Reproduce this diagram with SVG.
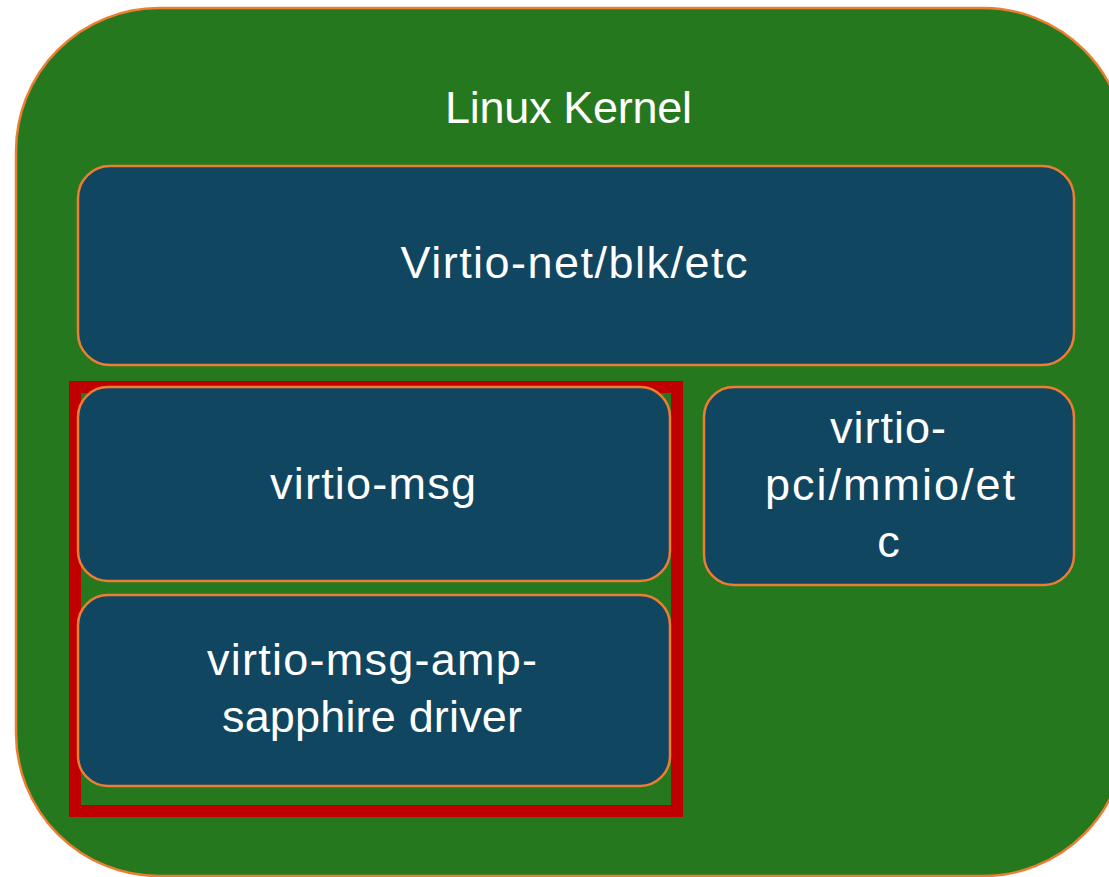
<svg xmlns="http://www.w3.org/2000/svg" width="1109" height="877" viewBox="0 0 1109 877">
<style>
  .box { fill: #114661; stroke: #ED7D31; stroke-width: 2.5; }
  .lbl { font-family: "Liberation Sans", Arial, sans-serif; font-size: 45px; fill: #FFFFFF; text-anchor: middle; }
</style>
<rect width="1109" height="877" fill="#FFFFFF"/>
<g id="linux-kernel">
  <rect x="16" y="8" width="1110" height="868" rx="143" ry="143" fill="#26781F" stroke="#ED7D31" stroke-width="2.5"/>
  <text class="lbl" x="568.5" y="123" textLength="247" lengthAdjust="spacing">Linux Kernel</text>
</g>
<g id="virtio-net">
  <rect class="box" x="78" y="166" width="996" height="199" rx="32" ry="32"/>
  <text class="lbl" x="574" y="278" textLength="347" lengthAdjust="spacing">Virtio-net/blk/etc</text>
</g>
<g id="highlight">
  <rect x="75" y="387" width="602" height="424" fill="none" stroke="#C00000" stroke-width="12"/>
</g>
<g id="virtio-msg">
  <rect class="box" x="78" y="387" width="592" height="194" rx="30" ry="30"/>
  <text class="lbl" x="373" y="499" textLength="206" lengthAdjust="spacing">virtio-msg</text>
</g>
<g id="virtio-msg-amp-sapphire">
  <rect class="box" x="78" y="595" width="592" height="191" rx="30" ry="30"/>
  <text class="lbl" x="372" y="675" textLength="330" lengthAdjust="spacing">virtio-msg-amp-</text>
  <text class="lbl" x="372" y="732" textLength="300" lengthAdjust="spacing">sapphire driver</text>
</g>
<g id="virtio-pci">
  <rect class="box" x="704" y="387" width="370" height="198" rx="30" ry="30"/>
  <text class="lbl" x="888" y="443" textLength="116" lengthAdjust="spacing">virtio-</text>
  <text class="lbl" x="890" y="500" textLength="250" lengthAdjust="spacing">pci/mmio/et</text>
  <text class="lbl" x="888.5" y="557">c</text>
</g>
<g id="connectors"/>
</svg>
